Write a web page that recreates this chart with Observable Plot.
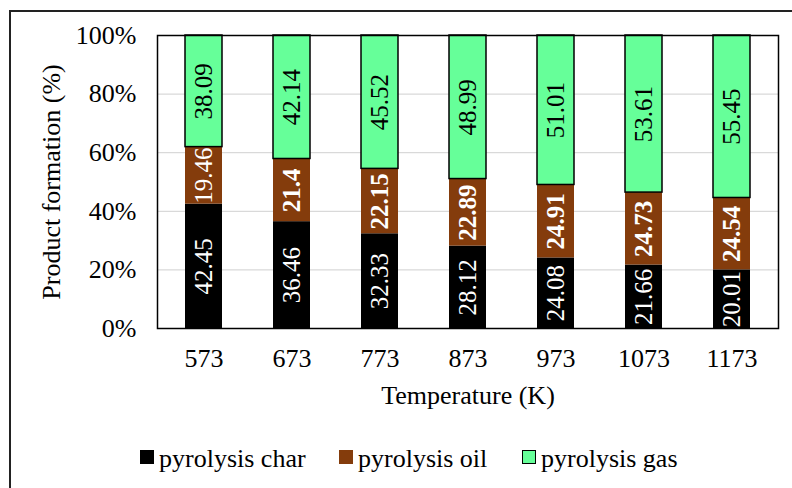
<!DOCTYPE html>
<html>
<head>
<meta charset="utf-8">
<script src="https://cdn.jsdelivr.net/npm/d3@7"></script>
<script src="https://cdn.jsdelivr.net/npm/@observablehq/plot@0.6"></script>
<style>
  body { margin: 0; background: #fff; font-family: "Liberation Serif", "Times New Roman", serif; }
  #wrap { position: relative; width: 792px; height: 488px; overflow: hidden; }
  #border { position: absolute; left: 9px; top: 10px; width: 820px; height: 520px; border: 2px solid #222; box-sizing: border-box; }
  #chart { position: absolute; left: 0; top: 0; }
  #legend { position: absolute; left: 0; top: 444px; width: 792px; font-size: 26px; line-height: 30px; color: #000; }
  .item { position: absolute; top: 0; white-space: nowrap; }
  .sw { display: inline-block; width: 14px; height: 14px; box-sizing: border-box; margin-right: 5px; vertical-align: 3px; }
</style>
</head>
<body>
<div id="wrap">
  <div id="border"></div>
  <div id="chart"></div>
  <div id="legend"></div>
</div>
<script>
const temperatures = ["573", "673", "773", "873", "973", "1073", "1173"];
const seriesNames = ["pyrolysis char", "pyrolysis oil", "pyrolysis gas"];
const charValues = [42.45, 36.46, 32.33, 28.12, 24.08, 21.66, 20.01];
const oilValues = [19.46, 21.4, 22.15, 22.89, 24.91, 24.73, 24.54];
const gasValues = [38.09, 42.14, 45.52, 48.99, 51.01, 53.61, 55.45];
const seriesColors = ["#000000", "#843C0C", "#66FF99"];
const yTicks = [0, 20, 40, 60, 80, 100];

const valuesBySeries = [charValues, oilValues, gasValues];
const data = [];
seriesNames.forEach((s, i) => {
  temperatures.forEach((t, j) => {
    data.push({temp: t, series: s, value: valuesBySeries[i][j], label: String(valuesBySeries[i][j])});
  });
});

const serif = "'Liberation Serif', 'Times New Roman', serif";
const stackOpts = (extra) => Plot.stackY({x: "temp", y: "value", z: "series", order: seriesNames, ...extra});
const labelFont = 25;

const chart = Plot.plot({
  width: 792,
  height: 400,
  marginTop: 35,
  marginLeft: 157,
  marginRight: 14,
  marginBottom: 72,
  style: {fontFamily: serif, fontSize: "26px", color: "#000", background: "transparent", overflow: "visible"},
  x: {domain: temperatures, paddingInner: 0.58, paddingOuter: 0.29, label: null},
  y: {domain: [0, 100], label: null},
  color: {domain: seriesNames, range: seriesColors},
  marks: [
    Plot.gridY(yTicks, {stroke: "#d9d9d9", strokeOpacity: 1, strokeWidth: 1.2}),
    Plot.barY(data, stackOpts({
      fill: "series",
      stroke: d => d.series === "pyrolysis gas" ? "black" : "none",
      strokeWidth: 1.5
    })),
    Plot.frame({stroke: "black", strokeWidth: 1.5}),
    Plot.axisY(yTicks, {tickSize: 0, tickPadding: 21, tickFormat: d => d + "%", fontSize: 26, fontFamily: serif, label: null}),
    Plot.axisX({tickSize: 0, tickPadding: 20, fontSize: 26, fontFamily: serif, label: null}),
    Plot.text(["Product formation (%)"], {frameAnchor: "left", dx: -106, rotate: -90, textAnchor: "middle", lineAnchor: "middle", fontSize: 26, fontFamily: serif, fill: "black"}),
    Plot.text(["Temperature (K)"], {frameAnchor: "bottom", dy: 67, lineAnchor: "middle", fontSize: 26, fontFamily: serif, fill: "black"}),
    Plot.text(data, stackOpts({
      text: d => d.series === "pyrolysis char" ? d.label : "",
      rotate: -90, fill: "white", fontSize: labelFont, fontFamily: serif
    })),
    Plot.text(data, stackOpts({
      text: d => d.series === "pyrolysis oil" && d.temp === "573" ? d.label : "",
      rotate: -90, fill: "white", fontSize: labelFont, fontFamily: serif
    })),
    Plot.text(data, stackOpts({
      text: d => d.series === "pyrolysis oil" && d.temp !== "573" ? d.label : "",
      rotate: -90, fill: "white", fontSize: labelFont, fontFamily: serif,
      fontWeight: "bold"
    })),
    Plot.text(data, stackOpts({
      text: d => d.series === "pyrolysis gas" ? d.label : "",
      rotate: -90, fill: "black", fontSize: labelFont, fontFamily: serif
    }))
  ]
});
document.getElementById("chart").appendChild(chart);

// legend
const legend = document.getElementById("legend");
const legendX = [140, 339, 522];
seriesNames.forEach((s, i) => {
  const item = document.createElement("div");
  item.className = "item";
  item.style.left = legendX[i] + "px";
  const sw = document.createElement("span");
  sw.className = "sw";
  sw.style.background = seriesColors[i];
  if (s === "pyrolysis gas") sw.style.border = "1.5px solid #000";
  item.appendChild(sw);
  item.appendChild(document.createTextNode(s));
  legend.appendChild(item);
});
</script>
</body>
</html>
